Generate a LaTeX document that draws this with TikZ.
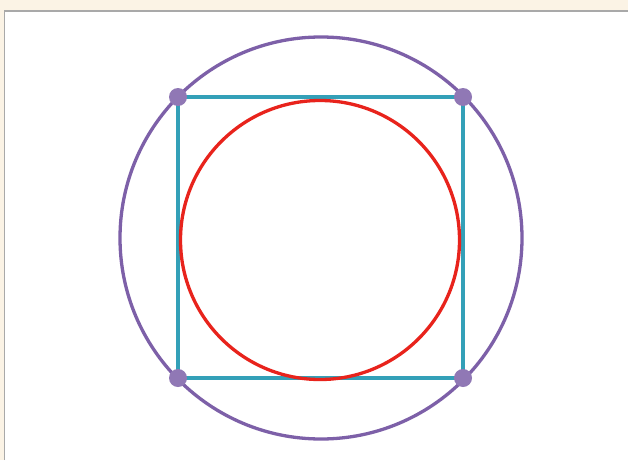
\documentclass[tikz,border=0pt]{standalone}
\definecolor{beige}{HTML}{FBF3E5}
\definecolor{frame}{HTML}{A9A9A9}
\definecolor{circpurple}{HTML}{7D60A8}
\definecolor{sqcyan}{HTML}{33A0B8}
\definecolor{circred}{HTML}{E8231C}
\tikzset{
  outer/.style={draw=circpurple, line width=3.3pt},
  inner/.style={draw=circred, line width=3.3pt},
  sq/.style={draw=sqcyan, line width=3.3pt},
  vertex/.style={circle, fill=circpurple!85, inner sep=0pt, minimum size=18pt},
}
\begin{document}
\begin{tikzpicture}[x=1pt,y=-1pt]
\useasboundingbox (0,0) rectangle (628,460);
\fill[beige] (0,0) rectangle (628,460);
\fill[white] (4.5,11) rectangle (628,460);
\draw[frame, line width=1.5pt] (4.5,460) -- (4.5,11) -- (628,11);
% outer circle
\coordinate (O) at (321,238);
\draw[outer] (O) circle[radius=201];
% square
\coordinate (A) at (178,97);
\coordinate (B) at (463,97);
\coordinate (C) at (463,378);
\coordinate (D) at (178,378);
\draw[sq] (A) -- (B) -- (C) -- (D) -- cycle;
% inner circle
\coordinate (I) at (320,240);
\draw[inner] (I) circle[radius=139.5];
% vertices
\node[vertex] (a) at (A) {};
\node[vertex] (b) at (B) {};
\node[vertex] (c) at (C) {};
\node[vertex] (d) at (D) {};
\end{tikzpicture}
\end{document}
